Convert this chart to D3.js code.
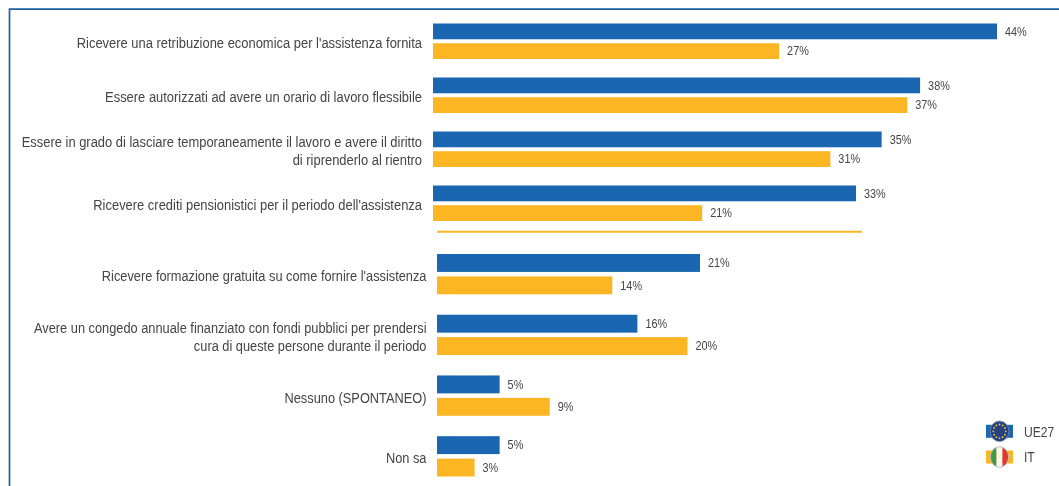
<!DOCTYPE html>
<html><head><meta charset="utf-8">
<script src="https://cdn.jsdelivr.net/npm/d3@7"></script>
<style>html,body{margin:0;padding:0;background:#fff;overflow:hidden}svg{display:block;filter:blur(0.35px)}text{font-family:"Liberation Sans",Arial,sans-serif;fill:#454545}</style>
</head><body><svg id="c" width="1059" height="486"></svg>
<script>
const seriesNames = ["UE27","IT"];
const seriesColors = ["#1a66b0","#fdb623"];
const topCategories = [
  ["Ricevere una retribuzione economica per l'assistenza fornita"],
  ["Essere autorizzati ad avere un orario di lavoro flessibile"],
  ["Essere in grado di lasciare temporaneamente il lavoro e avere il diritto","di riprenderlo al rientro"],
  ["Ricevere crediti pensionistici per il periodo dell'assistenza"]
];
const topUE27 = [44,38,35,33];
const topIT = [27,37,31,21];
const bottomCategories = [
  ["Ricevere formazione gratuita su come fornire l'assistenza"],
  ["Avere un congedo annuale finanziato con fondi pubblici per prendersi","cura di queste persone durante il periodo"],
  ["Nessuno (SPONTANEO)"],
  ["Non sa"]
];
const bottomUE27 = [21,16,5,5];
const bottomIT = [14,20,9,3];

const svg = d3.select("#c");
const textScale = 0.905;

// frame
svg.append("path").attr("d","M9.5,486V9.2H1059").attr("fill","none").attr("stroke","#1f5f9e").attr("stroke-width",1.7);

function section(cats, ue, it, xDomainMax, xRange, yRange, padInner, labelX, labelDy, labelSize){
  const x = d3.scaleLinear().domain([0,xDomainMax]).range(xRange);
  const y = d3.scaleBand().domain(d3.range(cats.length)).range(yRange).paddingInner(padInner);
  const sub = d3.scaleBand().domain(seriesNames).range([0,y.bandwidth()]).paddingInner(0.2);
  const rows = cats.map((c,i)=>({c,i,vals:[{s:seriesNames[0],v:ue[i]},{s:seriesNames[1],v:it[i]}]}));
  const g = svg.append("g").selectAll("g").data(rows).join("g")
    .attr("transform",d=>`translate(0,${y(d.i)})`);
  g.selectAll("rect").data(d=>d.vals).join("rect")
    .attr("x",x(0)).attr("y",d=>sub(d.s))
    .attr("width",d=>x(d.v)-x(0)).attr("height",sub.bandwidth())
    .attr("fill",(d,i)=>seriesColors[i]);
  g.selectAll("text.v").data(d=>d.vals).join("text").attr("class","v")
    .attr("transform",d=>`translate(${x(d.v)+8},${sub(d.s)+sub.bandwidth()/2+4.3}) scale(${textScale},1)`)
    .attr("font-size",12).text(d=>d.v+"%");
  g.each(function(d){
    const n = d.c.length;
    d3.select(this).selectAll("text.l").data(d.c).join("text").attr("class","l")
      .attr("text-anchor","end").attr("font-size",labelSize)
      .attr("transform",(t,j)=>`translate(${labelX},${y.bandwidth()/2+labelDy+(j-(n-1)/2)*18}) scale(${textScale},1)`)
      .text(t=>t);
  });
  return x;
}
section(topCategories, topUE27, topIT, 44, [433,997], [23.5,221], 1-35.5/54, 422, 7, 14.3);
const xb = section(bottomCategories, bottomUE27, bottomIT, 21, [437,700], [254,476.5], 1-40.3/60.7, 426.5, 7, 14.15);

// separator
svg.append("line").attr("x1",xb(0)).attr("x2",862).attr("y1",231.8).attr("y2",231.8)
  .attr("stroke",seriesColors[1]).attr("stroke-width",2);

// legend
const leg = svg.append("g");
const legY = d3.scalePoint().domain(seriesNames).range([431.3,457]);
leg.selectAll("rect").data(seriesNames).join("rect")
  .attr("x",986).attr("width",27).attr("y",d=>legY(d)-6.5).attr("height",13)
  .attr("fill",(d,i)=>seriesColors[i]);
leg.selectAll("text").data(seriesNames).join("text")
  .attr("transform",d=>`translate(1024,${legY(d)+5.3}) scale(0.81,1)`)
  .attr("font-size",15).text(d=>d);
// EU badge
const cx=999.5, eu=legY("UE27"), itY=legY("IT");
svg.append("ellipse").attr("cx",cx).attr("cy",eu).attr("rx",9.4).attr("ry",10.3).attr("fill","#26427f").attr("stroke","#7f8fb5").attr("stroke-width",.7);
svg.append("g").selectAll("circle").data(d3.range(12)).join("circle")
  .attr("cx",i=>cx+6.2*Math.cos(i*Math.PI/6)).attr("cy",i=>eu+6.8*Math.sin(i*Math.PI/6))
  .attr("r",.9).attr("fill","#e8c84a");
// IT badge
const defs=svg.append("defs");
defs.append("clipPath").attr("id","itc").append("ellipse").attr("cx",cx).attr("cy",itY).attr("rx",8.9).attr("ry",10.2);
const fl=svg.append("g").attr("clip-path","url(#itc)");
fl.selectAll("rect").data(["#3f9a45","#f6f6f4","#dc3a32"]).join("rect")
  .attr("x",(d,i)=>cx-8.9+i*5.93).attr("y",itY-11).attr("width",5.93).attr("height",22).attr("fill",d=>d);
svg.append("ellipse").attr("cx",cx).attr("cy",itY).attr("rx",9.1).attr("ry",10.4).attr("fill","none").attr("stroke","#b9b9b9").attr("stroke-width",.9);
</script></body></html>
